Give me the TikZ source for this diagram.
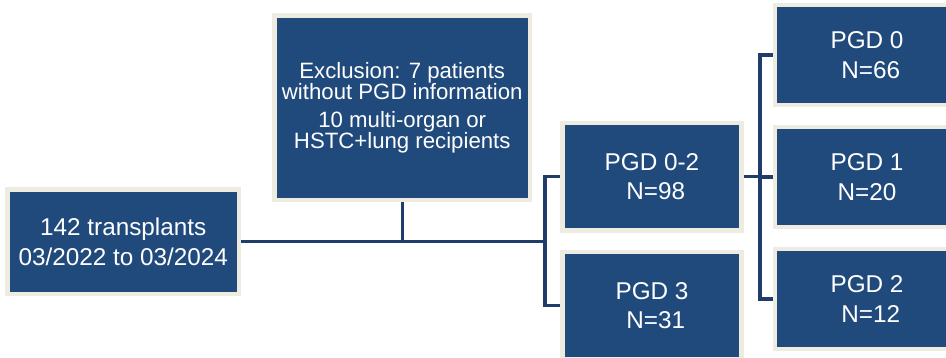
\documentclass[tikz,border=0pt]{standalone}
\usepackage{fontspec}
\setmainfont{Liberation Sans}
\definecolor{boxblue}{HTML}{214A7C}
\definecolor{connblue}{HTML}{1F3D68}
\definecolor{cream}{HTML}{EEEBE0}
\newcommand\myexclfont{\fontsize{22.2}{19.2}\selectfont}
\begin{document}
\begin{tikzpicture}[x=1pt,y=-1pt,
  box/.style={draw=cream, line width=4.5pt, fill=boxblue, text=white, align=center,
    inner sep=0pt, outer sep=2.25pt, font=\fontsize{24.3}{29.5}\selectfont},
  conn/.style={draw=connblue, line width=3.5pt}]
\useasboundingbox (0,0) rectangle (946,358);
\clip (0,0) rectangle (946,358);
\node[box, minimum width=231.5pt, minimum height=104.5pt] (src) at (123.25,241.75)
  {142 transplants\\03/2022 to 03/2024};
\node[box, minimum width=255.5pt, minimum height=184.5pt, font=\myexclfont] (excl) at (402.25,107.75)
  {\lineskiplimit=-30pt\relax Exclusion: 7 patients\\without PGD information\\[8pt]10 multi-organ or\\HSTC+lung recipients};
\node[box, minimum width=179pt, minimum height=107.5pt] (pgd02) at (652,176.75)
  {PGD 0-2\\\hspace*{0.3em}N=98};
\node[box, minimum width=179pt, minimum height=107.5pt] (pgd3) at (652,305.75)
  {PGD 3\\\hspace*{0.3em}N=31};
\node[box, minimum width=184pt, minimum height=100pt] (pgd0) at (867,55)
  {PGD 0\\\hspace*{0.3em}N=66};
\node[box, minimum width=184pt, minimum height=100pt] (pgd1) at (867,177)
  {PGD 1\\N=20};
\node[box, minimum width=184pt, minimum height=100pt] (pgd2) at (867,299)
  {PGD 2\\\hspace*{0.3em}N=12};
\coordinate (j1) at (545,241.75);
\coordinate (j2) at (760,177);
\draw[conn] (src.east) -- (j1);
\draw[conn] (excl.south) -- (excl.south |- src.east);
\draw[conn] (pgd02.west) -| (j1) |- (pgd3.west);
\draw[conn] (pgd02.east) -- (pgd02.east -| j2);
\draw[conn] (pgd0.west) -| (j2) |- (pgd2.west);
\draw[conn] (j2) -- (pgd1.west);
\end{tikzpicture}
\end{document}
